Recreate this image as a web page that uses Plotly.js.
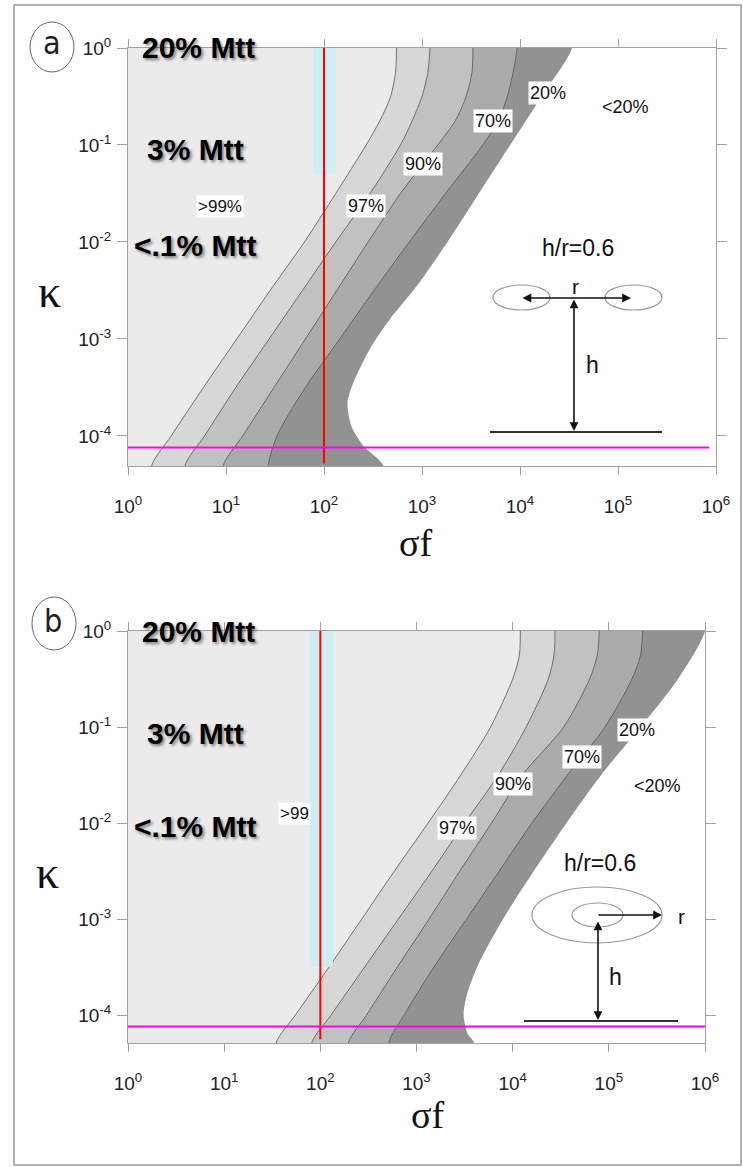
<!DOCTYPE html>
<html>
<head>
<meta charset="utf-8">
<script src="https://cdn.plot.ly/plotly-3.0.1.min.js"></script>
<style>
html,body{margin:0;padding:0;background:#fff;}
#chart{width:743px;height:1167px;}
</style>
</head>
<body>
<div id="chart"></div>
<script>
// ---------------- DATA (log10 values) ----------------
// Panel a: kappa levels (log10 κ) and log10 σf of each contour boundary
const kappaLogA = [0, -0.25, -0.5, -0.75, -1.0, -1.5, -2.0, -2.5, -3.0, -3.5, -4.0, -4.31];
const a99 = [2.74, 2.73, 2.68, 2.57, 2.43, 2.12, 1.80, 1.45, 1.11, 0.77, 0.44, 0.24];
const a97 = [3.08, 3.06, 3.00, 2.90, 2.78, 2.47, 2.12, 1.78, 1.44, 1.10, 0.78, 0.58];
const a90 = [3.52, 3.51, 3.45, 3.34, 3.16, 2.78, 2.45, 2.13, 1.81, 1.49, 1.17, 0.97];
const a70 = [3.97, 3.93, 3.87, 3.78, 3.62, 3.24, 2.87, 2.51, 2.16, 1.81, 1.52, 1.43];
const kappaLogA20 = [0, -0.5, -1.0, -1.5, -2.0, -2.45, -2.8, -3.1, -3.45, -3.66, -3.9, -4.1, -4.31];
const a20 = [4.53, 4.22, 3.90, 3.58, 3.26, 2.95, 2.67, 2.47, 2.30, 2.24, 2.28, 2.40, 2.61];

// Panel b
const kappaLogB = [0, -0.25, -0.5, -1.0, -1.5, -2.0, -2.5, -3.0, -3.5, -4.0, -4.29];
const b99 = [4.08, 4.07, 4.00, 3.77, 3.46, 3.12, 2.77, 2.43, 2.09, 1.74, 1.54];
const b97 = [4.44, 4.43, 4.37, 4.14, 3.85, 3.50, 3.16, 2.81, 2.46, 2.11, 1.91];
const b90 = [4.90, 4.88, 4.80, 4.53, 4.10, 3.78, 3.45, 3.13, 2.80, 2.48, 2.29];
const b70 = [5.35, 5.33, 5.24, 4.96, 4.57, 4.20, 3.86, 3.52, 3.18, 2.87, 2.71];
const kappaLogB20 = [0, -0.5, -1.0, -1.5, -2.0, -2.5, -3.0, -3.5, -3.8, -4.0, -4.19, -4.29];
const b20 = [6.0, 5.72, 5.33, 4.92, 4.56, 4.22, 3.90, 3.63, 3.52, 3.49, 3.53, 3.60];

// Reference lines
const refSigma = 100;            // red vertical line, σf = 10^2
const refKappa = 7.6e-5;         // magenta horizontal line
const redKappaA = [1, 5.2e-5];
const redKappaB = [1, 5.6e-5];
const magSigmaA = [0.955, 8.5e5];
const magSigmaB = [0.93, 1.1e6];
// Cyan highlight bars (σf range, κ range)
const cyanSigmaA = [77, 132];
const cyanKappaA = [1, 0.051];
const cyanSigmaB = [78, 135];
const cyanKappaB = [1, 3.2e-4];

const contourLabels = ['>99%', '97%', '90%', '70%', '20%', '<20%'];
const xTickVals = [1, 10, 100, 1e3, 1e4, 1e5, 1e6];
const xTickText = ['10<sup>0</sup>','10<sup>1</sup>','10<sup>2</sup>','10<sup>3</sup>','10<sup>4</sup>','10<sup>5</sup>','10<sup>6</sup>'];
const yTickVals = [1e-4, 1e-3, 1e-2, 1e-1, 1];
const yTickText = ['10<sup>-4</sup>','10<sup>-3</sup>','10<sup>-2</sup>','10<sup>-1</sup>','10<sup>0</sup>'];

// ---------------- STYLE ----------------
const W = 743, H = 1167;
const px = x => x / W;
const py = y => 1 - y / H;
const P = v => Math.pow(10, v);
const bandColors = ['#d7d7d7', '#c1c1c1', '#ababab', '#929292', '#ffffff'];
const bgColor = '#ebebeb';

function band(sig, kap, color, xa, ya, withLine) {
  const xs = [P(sig[0])].concat(sig.map(P), [P(sig[sig.length-1]), P(6.4), P(6.4)]);
  const ys = [P(0.3)].concat(kap.map(P), [P(-4.7), P(-4.7), P(0.3)]);
  return {
    x: xs, y: ys, xaxis: xa, yaxis: ya, mode: 'lines', fill: 'toself',
    fillcolor: color, hoverinfo: 'skip', showlegend: false,
    line: {color: withLine ? '#555' : color, width: withLine ? 0.8 : 0, shape: 'spline', smoothing: 0.8}
  };
}
function rect(xr, yr, xa, ya) {
  return {x: [xr[0], xr[1], xr[1], xr[0], xr[0]], y: [yr[0], yr[0], yr[1], yr[1], yr[0]],
    xaxis: xa, yaxis: ya, mode: 'lines', fill: 'toself', fillcolor: '#cdeff2',
    line: {width: 0, color: '#cdeff2'}, hoverinfo: 'skip', showlegend: false};
}
function vline(x, yr, xa, ya) {
  return {x: [x, x], y: yr, xaxis: xa, yaxis: ya, mode: 'lines',
    line: {color: '#ff0000', width: 2}, hoverinfo: 'skip', showlegend: false};
}
function hline(y, xr, xa, ya) {
  return {x: xr, y: [y, y], xaxis: xa, yaxis: ya, mode: 'lines',
    line: {color: '#ff00ff', width: 2}, hoverinfo: 'skip', showlegend: false};
}

const traces = [
  band(a99, kappaLogA, bandColors[0], 'x', 'y', true),
  band(a97, kappaLogA, bandColors[1], 'x', 'y', true),
  band(a90, kappaLogA, bandColors[2], 'x', 'y', true),
  band(a70, kappaLogA, bandColors[3], 'x', 'y', true),
  band(a20, kappaLogA20, bandColors[4], 'x', 'y', false),
  rect(cyanSigmaA, cyanKappaA, 'x', 'y'),
  vline(refSigma, redKappaA, 'x', 'y'),
  hline(refKappa, magSigmaA, 'x', 'y'),

  band(b99, kappaLogB, bandColors[0], 'x2', 'y2', true),
  band(b97, kappaLogB, bandColors[1], 'x2', 'y2', true),
  band(b90, kappaLogB, bandColors[2], 'x2', 'y2', true),
  band(b70, kappaLogB, bandColors[3], 'x2', 'y2', true),
  band(b20, kappaLogB20, bandColors[4], 'x2', 'y2', false),
  rect(cyanSigmaB, cyanKappaB, 'x2', 'y2'),
  vline(refSigma, redKappaB, 'x2', 'y2'),
  hline(refKappa, magSigmaB, 'x2', 'y2')
];

const tickFont = {family: 'Liberation Sans, Arial, sans-serif', size: 19, color: '#222'};
function xax(domain, anchor) {
  return {domain: domain, anchor: anchor, type: 'log', range: [0, 6], tickvals: xTickVals, ticktext: xTickText,
    showline: true, linecolor: '#a0a0a0', linewidth: 1, mirror: 'allticks', ticks: 'outside', ticklen: 8,
    tickcolor: '#a0a0a0', showgrid: false, zeroline: false, tickfont: tickFont, ticklabelstandoff: 15};
}
function yax(domain, anchor, lo) {
  return {domain: domain, anchor: anchor, type: 'log', range: [lo, 0], tickvals: yTickVals, ticktext: yTickText,
    showline: true, linecolor: '#a0a0a0', linewidth: 1, mirror: 'allticks', ticks: 'outside', ticklen: 10,
    tickcolor: '#a0a0a0', showgrid: false, zeroline: false, tickfont: tickFont, ticklabelstandoff: 2};
}

const ann = [];
function txt(t, x, y, size, opts) {
  ann.push(Object.assign({text: t, x: px(x), y: py(y), xref: 'paper', yref: 'paper', showarrow: false,
    xanchor: 'center', yanchor: 'middle',
    font: {family: 'Liberation Sans, Arial, sans-serif', size: size, color: '#111'}}, opts || {}));
}
const boldFont = s => ({family: 'Liberation Sans, Arial, sans-serif', size: s, color: '#000', weight: 'bold',
  shadow: '2px 2px 3px rgba(0,0,0,0.45)'});
const serif = s => ({family: 'Liberation Serif, Times New Roman, serif', size: s, color: '#111'});
const boxed = {bgcolor: '#ffffff', borderpad: 1};
const MT = 30;

// Panel a texts
txt('<b>20% Mtt</b>', 198, 48, MT, {font: boldFont(MT)});
txt('<b>3% Mtt</b>', 195, 149, MT, {font: boldFont(MT)});
txt('<b>&lt;.1% Mtt</b>', 195, 245, MT, {font: boldFont(MT)});
txt(contourLabels[0], 220, 207, 17, boxed);
txt(contourLabels[1], 366, 206, 18, boxed);
txt(contourLabels[2], 423, 164, 18, boxed);
txt(contourLabels[3], 493, 121, 18, boxed);
txt(contourLabels[4], 548, 93, 18, boxed);
txt(contourLabels[5], 625, 107, 18);
txt('h/r=0.6', 578, 248, 23);
txt('r', 575, 286, 21);
txt('h', 592, 365, 23);
txt('κ', 49, 292, 46, {font: serif(46)});
txt('σf', 416, 543, 38, {font: serif(38)});
txt('a', 52, 43, 32, {font: {family: 'Liberation Sans Narrow, DejaVu Sans Condensed, Arial, sans-serif', size: 32, color: '#222'}});

// Panel b texts
txt('<b>20% Mtt</b>', 198, 631, MT, {font: boldFont(MT)});
txt('<b>3% Mtt</b>', 195, 733, MT, {font: boldFont(MT)});
txt('<b>&lt;.1% Mtt</b>', 195, 826, MT, {font: boldFont(MT)});
txt('>99', 311, 813, 17, Object.assign({xanchor: 'right'}, boxed));
txt(contourLabels[1], 457, 828, 18, boxed);
txt(contourLabels[2], 513, 784, 18, boxed);
txt(contourLabels[3], 582, 757, 18, boxed);
txt(contourLabels[4], 637, 730, 18, boxed);
txt(contourLabels[5], 657, 786, 18);
txt('h/r=0.6', 600, 863, 23);
txt('r', 681, 916, 21);
txt('h', 615, 977, 23);
txt('κ', 47, 872, 46, {font: serif(46)});
txt('σf', 427, 1115, 38, {font: serif(38)});
txt('b', 53, 621, 32, {font: {family: 'Liberation Sans Narrow, DejaVu Sans Condensed, Arial, sans-serif', size: 32, color: '#222'}});

// Arrows (schematic insets)
function arrow(x, y, ax, ay, both) {
  ann.push({x: px(x), y: py(y), xref: 'paper', yref: 'paper', ax: ax, ay: ay, text: '', showarrow: true,
    arrowhead: 2, arrowsize: 1.1, arrowwidth: 1.6, arrowcolor: '#111', arrowside: both ? 'end+start' : 'end'});
}
arrow(631, 298, -110, 0, true);
arrow(574, 431, 0, -133, true);
arrow(662, 915, -65, 0, false);
arrow(598, 1020, 0, -100, true);

const shapes = [
  {type: 'rect', xref: 'paper', yref: 'paper', x0: px(14), x1: px(741), y0: py(5), y1: py(1165), line: {color: '#9a9a9a', width: 1.5}},
  {type: 'circle', xref: 'paper', yref: 'paper', x0: px(30), x1: px(74), y0: py(22), y1: py(72), line: {color: '#666', width: 1}},
  {type: 'circle', xref: 'paper', yref: 'paper', x0: px(32), x1: px(76), y0: py(597), y1: py(650), line: {color: '#666', width: 1}},
  // panel a inset
  {type: 'circle', xref: 'paper', yref: 'paper', x0: px(493), x1: px(550), y0: py(285), y1: py(310), line: {color: '#9a9a9a', width: 1.2}},
  {type: 'circle', xref: 'paper', yref: 'paper', x0: px(605), x1: px(662), y0: py(285), y1: py(310), line: {color: '#9a9a9a', width: 1.2}},
  {type: 'line', xref: 'paper', yref: 'paper', x0: px(490), x1: px(662), y0: py(432), y1: py(432), line: {color: '#333', width: 2}},
  // panel b inset
  {type: 'circle', xref: 'paper', yref: 'paper', x0: px(532), x1: px(662), y0: py(887), y1: py(943), line: {color: '#9a9a9a', width: 1.2}},
  {type: 'circle', xref: 'paper', yref: 'paper', x0: px(572), x1: px(623), y0: py(903), y1: py(927), line: {color: '#9a9a9a', width: 1.2}},
  {type: 'line', xref: 'paper', yref: 'paper', x0: px(524), x1: px(678), y0: py(1021), y1: py(1021), line: {color: '#333', width: 2}}
];

const layout = {
  width: W, height: H, autosize: false,
  margin: {l: 0, r: 0, t: 0, b: 0},
  paper_bgcolor: '#ffffff', plot_bgcolor: bgColor,
  showlegend: false,
  xaxis: xax([px(128), px(716)], 'y'),
  yaxis: yax([py(466), py(48)], 'x', -4.31),
  xaxis2: xax([px(128), px(705)], 'y2'),
  yaxis2: yax([py(1043), py(631)], 'x2', -4.29),
  annotations: ann,
  shapes: shapes
};

Plotly.newPlot('chart', traces, layout, {displayModeBar: false, staticPlot: true});
</script>
</body>
</html>
